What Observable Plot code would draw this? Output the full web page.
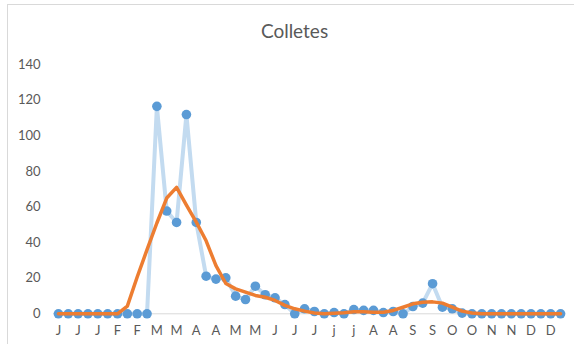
<!DOCTYPE html>
<html>
<head>
<meta charset="utf-8">
<script src="https://cdn.jsdelivr.net/npm/d3@7"></script>
<script src="https://cdn.jsdelivr.net/npm/@observablehq/plot@0.6"></script>
<style>
  html, body { margin: 0; padding: 0; background: #fff; }
  #wrap { position: relative; width: 574px; height: 344px; overflow: hidden; font-family: Lato, "Open Sans", sans-serif; }
  #frame { position: absolute; left: 7px; top: 4px; width: 600px; height: 400px; border: 1px solid #d9d9d9; box-sizing: border-box; }
  #title { position: relative; height: 46px; box-sizing: border-box; padding-top: 21px; padding-left: 7px; width: 582px; text-align: center; font-size: 19px; line-height: 19px; color: #595959; }
  #chart { position: relative; }
</style>
</head>
<body>
<div id="wrap">
  <div id="frame"></div>
  <div id="title">Colletes</div>
  <div id="chart"></div>
</div>
<script>
// Weekly observations (52 weeks)
const observed = [
  0, 0, 0, 0, 0, 0, 0, 0, 0, 0,
  116.5, 57.7, 51.3, 111.9, 51.3, 21.1, 19.5, 20.2, 9.9, 8.0,
  15.5, 10.7, 9.0, 5.2, 0, 2.8, 1.3, 0, 0.7, 0,
  2.4, 1.9, 1.9, 0.7, 1.3, 0, 4.1, 6.0, 16.9, 3.7,
  2.8, 0.4, 0, 0, 0, 0, 0, 0, 0, 0,
  0, 0
];
// Smoothed trend
const trend = [
  0, 0, 0, 0, 0, 0, 0, 4.3, 20.7, 36,
  51, 65, 71, 61, 51.5, 41, 27, 17, 14, 12.2,
  10.3, 9.3, 7.5, 4.7, 2.8, 1.5, 0.4, 0, 0.3, 0.6,
  1.1, 1.1, 0.9, 0.9, 1.9, 3.7, 5.6, 6.5, 6.7, 6.0,
  3.7, 1.5, 0.4, 0, 0, 0, 0, 0, 0, 0,
  0, 0
];
// Tick labels shown at every other week
const tickLabels = ["J","J","J","F","F","M","M","A","A","M","M","J","J","J","j","j","A","A","S","S","O","O","N","N","D","D"];
const yTicks = [0, 20, 40, 60, 80, 100, 120, 140];

const obsData = observed.map((v, i) => ({i, v}));
const trendData = trend.map((v, i) => ({i, v}));
const tickPositions = tickLabels.map((_, k) => k * 2);

const chart = Plot.plot({
  width: 574,
  height: 298,
  marginTop: 18,
  marginBottom: 30.7,
  marginLeft: 53,
  marginRight: 9,
  style: { fontFamily: "Lato, 'Open Sans', sans-serif", fontSize: "13px", color: "#595959", background: "transparent" },
  x: { domain: [-0.5, observed.length - 0.5] },
  y: { domain: [0, 140] },
  marks: [
    Plot.ruleY([0], { stroke: "#d9d9d9", strokeWidth: 1 }),
    Plot.axisX({ ticks: tickPositions, tickFormat: i => tickLabels[i / 2], tickSize: 0, tickPadding: 12, label: null, fill: "#595959" }),
    Plot.axisY({ ticks: yTicks, tickSize: 0, tickPadding: 13, label: null, fill: "#595959" }),
    Plot.line(obsData, { x: "i", y: "v", stroke: "#c3dbf0", strokeWidth: 4 }),
    Plot.dot(obsData, { x: "i", y: "v", r: 4.8, fill: "#5b9bd5", stroke: "none" }),
    Plot.line(trendData, { x: "i", y: "v", stroke: "#ed7d31", strokeWidth: 3.5, strokeLinejoin: "round" })
  ]
});
document.getElementById("chart").appendChild(chart);
</script>
</body>
</html>
